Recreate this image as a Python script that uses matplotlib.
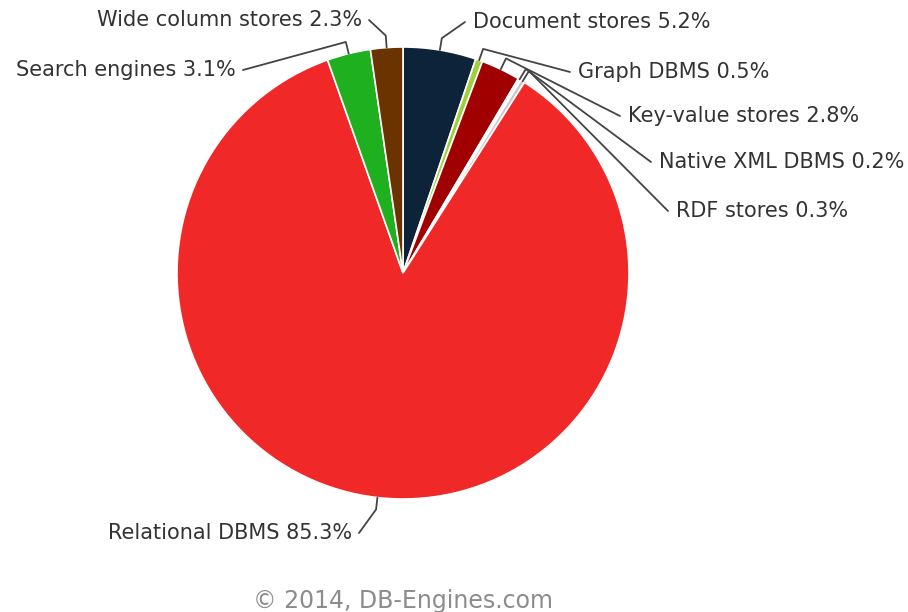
import numpy as np
import matplotlib
matplotlib.use("Agg")
import matplotlib.pyplot as plt

# DBMS popularity share by database model
categories = ["Document stores", "Graph DBMS", "Key-value stores", "Native XML DBMS",
              "RDF stores", "Relational DBMS", "Search engines", "Wide column stores"]
shares = [5.2, 0.5, 2.8, 0.2, 0.3, 85.3, 3.1, 2.3]
colors = ["#0d233a", "#9fcf3a", "#a00000", "#f2f2f2", "#c8c8c8",
          "#f02828", "#1fb01f", "#6b3300"]

# label layout in pixel space (x, y from top), alignment of the text
label_pos = {
    "Document stores": (473, 22, "left"),
    "Graph DBMS": (578, 72, "left"),
    "Key-value stores": (628, 116, "left"),
    "Native XML DBMS": (659, 162, "left"),
    "RDF stores": (676, 211, "left"),
    "Relational DBMS": (352, 533, "right"),
    "Search engines": (236, 70, "right"),
    "Wide column stores": (362, 20, "right"),
}

W, H = 908, 612
cx, cy, r = 403, 273, 226

fig = plt.figure(figsize=(W / 100, H / 100), dpi=100)
ax = fig.add_axes([0, 0, 1, 1])

wedges, _ = ax.pie(shares, colors=colors, startangle=90, counterclock=False,
                   center=(cx, H - cy), radius=r,
                   wedgeprops=dict(edgecolor="white", linewidth=1.2))
ax.set_xlim(0, W)
ax.set_ylim(0, H)
ax.set_aspect("equal")
ax.axis("off")

total = sum(shares)
cum = 0
for name, val in zip(categories, shares):
    mid = 90 - (cum + val / 2) / total * 360
    cum += val
    a = np.deg2rad(mid)
    ex, ey = cx + r * np.cos(a), cy - r * np.sin(a)
    bx, by = cx + (r + 12) * np.cos(a), cy - (r + 12) * np.sin(a)
    lx, ly, ha = label_pos[name]
    tx = lx - 8 if ha == "left" else lx + 7
    ax.plot([ex, bx, tx], [H - ey, H - by, H - ly], color="#444444", lw=1.3,
            solid_capstyle="round")
    ax.text(lx, H - ly, f"{name} {val}%", ha=ha, va="center",
            fontsize=15, color="#333333")

ax.text(cx, H - 601, "\u00a9 2014, DB-Engines.com", ha="center", va="center",
        fontsize=17, color="#8c8c8c")

fig.savefig("out.png", dpi=100)
